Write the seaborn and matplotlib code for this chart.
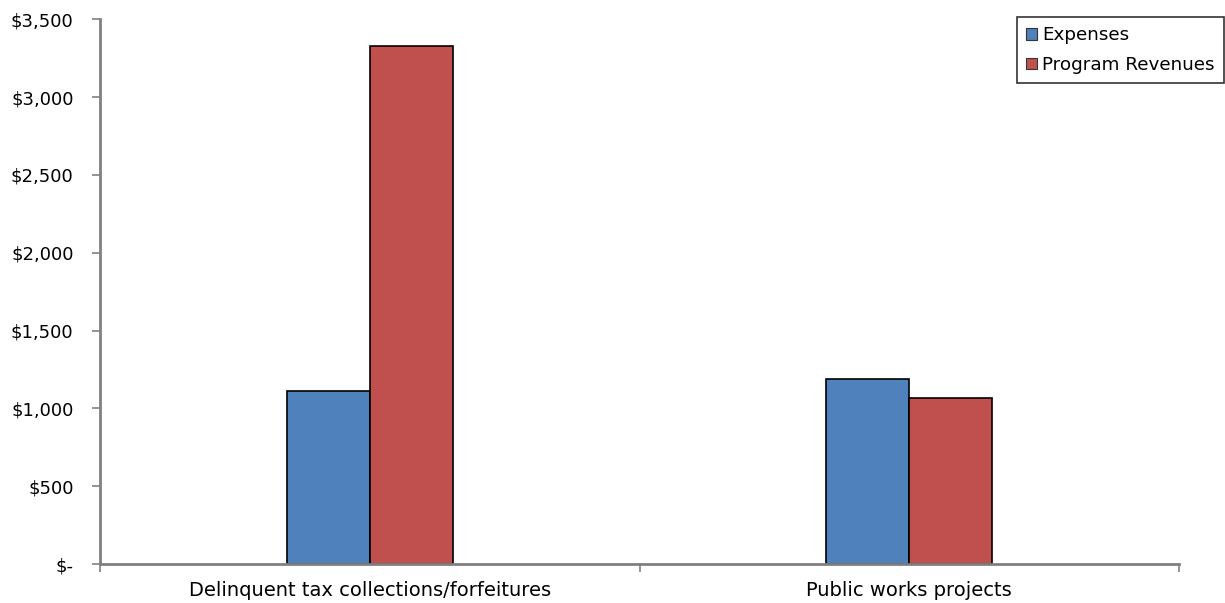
import matplotlib
matplotlib.use("Agg")
import matplotlib.pyplot as plt
import matplotlib.ticker as mticker
from matplotlib.patches import Patch
import seaborn as sns
import pandas as pd

categories = ["Delinquent tax collections/forfeitures", "Public works projects"]
series = ["Expenses", "Program Revenues"]
expenses = [1113, 1187]
program_revenues = [3328, 1067]
colors = ["#4F81BD", "#C0504D"]

df = pd.DataFrame({
    "category": categories * 2,
    "series": [series[0]] * 2 + [series[1]] * 2,
    "value": expenses + program_revenues,
})

sns.set_style("white")
plt.rcParams["font.family"] = ["DejaVu Sans"]
plt.rcParams["text.color"] = "black"
plt.rcParams["xtick.labelcolor"] = "black"
plt.rcParams["ytick.labelcolor"] = "black"

fig = plt.figure(figsize=(12.25, 6.03), dpi=100)
ax = fig.add_axes([100 / 1225, 39 / 603, 1079 / 1225, 544.7 / 603])

sns.barplot(data=df, x="category", y="value", hue="series", order=categories,
            hue_order=series, palette=colors, width=0.308, saturation=1,
            edgecolor="black", linewidth=1.2, ax=ax, legend=False)

ax.set_xlim(-0.5, 1.5)
ax.set_ylim(0, 3500)
ax.set_xlabel("")
ax.set_ylabel("")

# y axis: dollar formatting, zero shown as "$-"
ax.yaxis.set_major_locator(mticker.MultipleLocator(500))
ax.yaxis.set_major_formatter(mticker.FuncFormatter(
    lambda v, _: "$-" if v == 0 else f"${v:,.0f}"))
ax.tick_params(axis="y", length=6, width=1.2, color="#808080",
               direction="out", labelsize=13, pad=13, left=True)

# x axis: ticks at category boundaries, labels centred under each group
ax.set_xticks([-0.5, 0.5, 1.5])
ax.set_xticklabels([])
ax.set_xticks([0, 1], minor=True)
ax.set_xticklabels(categories, minor=True)
ax.tick_params(axis="x", which="major", length=6, width=1.2, color="#808080",
               direction="out", bottom=True)
ax.tick_params(axis="x", which="minor", length=0, labelsize=14, pad=12)

for side in ["top", "right"]:
    ax.spines[side].set_visible(False)
for side in ["left", "bottom"]:
    ax.spines[side].set_color("#808080")
    ax.spines[side].set_linewidth(2)

handles = [Patch(facecolor=c, edgecolor="#333333", linewidth=0.8, label=s)
           for c, s in zip(colors, series)]
leg = fig.legend(handles=handles, loc="upper right",
                 bbox_to_anchor=(1224 / 1225, 1 - 17 / 603),
                 bbox_transform=fig.transFigure, borderaxespad=0,
                 fancybox=False, frameon=True, edgecolor="black",
                 fontsize=13.2, handlelength=0.6, handleheight=0.6,
                 handletextpad=0.3, borderpad=0.5, labelspacing=0.65)
leg.get_frame().set_linewidth(1.2)

fig.savefig("out.png", dpi=100, facecolor="white")
